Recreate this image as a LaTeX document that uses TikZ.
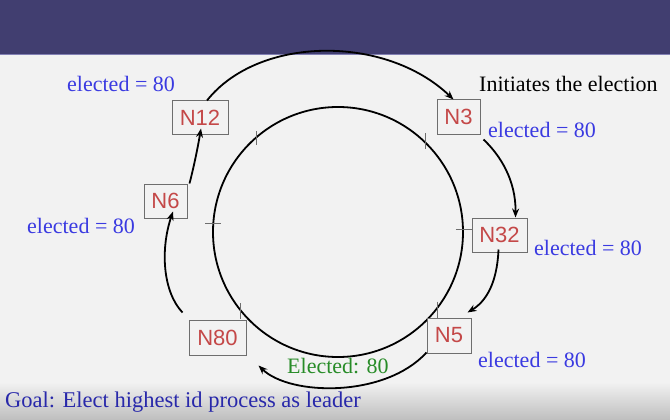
\documentclass[tikz,border=0pt]{standalone}
\usepackage{fontspec}
\setmainfont{Liberation Serif}
\newfontfamily\boxfont{Liberation Sans}
\usetikzlibrary{arrows.meta,calc}
\definecolor{barcol}{RGB}{65,62,112}
\definecolor{barline}{RGB}{130,128,180}
\definecolor{bgcol}{RGB}{242,242,242}
\definecolor{shadecol}{RGB}{190,190,190}
\definecolor{idred}{RGB}{196,72,72}
\definecolor{elblue}{RGB}{58,58,225}
\definecolor{goalblue}{RGB}{40,40,170}
\definecolor{elgreen}{RGB}{40,140,40}
\definecolor{boxgray}{RGB}{110,110,110}
\definecolor{tickgray}{RGB}{110,110,110}
\begin{document}
\begin{tikzpicture}[x=1pt,y=-1pt,
  procbox/.style={draw=boxgray,line width=1pt,fill=bgcol,inner sep=0pt,
    font=\boxfont\fontsize{22}{24}\selectfont,text=idred},
  lbl/.style={font=\fontsize{22}{24}\selectfont,text=elblue,anchor=base west,inner sep=0pt},
  msg/.style={draw=black,line width=1.8pt,-{Stealth[length=9pt,width=7pt]}},
  tickmark/.style={draw=tickgray,line width=0.8pt}]
\useasboundingbox (0,0) rectangle (670,420);
% background
\fill[bgcol] (0,0) rectangle (670,420);
\shade[top color=bgcol,bottom color=shadecol] (0,382) rectangle (670,420);
\fill[barcol] (0,0) rectangle (670,55);
\draw[barline,line width=1pt] (0,55) -- (670,55);
% ring
\node[draw=black,line width=1.8pt,circle,minimum size=250pt,inner sep=0pt] (ring) at (338,232) {};
% ticks
\draw[tickmark] ($(ring.132)+(3,-7)$) -- +(0,14);
\draw[tickmark] ($(ring.46)+(0,-8)$) -- +(0,16);
\draw[tickmark] ($(ring.176)+(-7,0)$) -- +(16,0);
\draw[tickmark] ($(ring.1.5)+(-8,0)$) -- +(16,0);
\draw[tickmark] ($(ring.219)+(0,-8)$) -- +(0,16);
\draw[tickmark] ($(ring.-38)+(0,-8)$) -- +(0,16);
% processes
\node[procbox,minimum width=56pt,minimum height=33pt] (n12) at (200,117.5) {N12};
\node[procbox,minimum width=43pt,minimum height=34pt] (n3) at (458.5,117) {N3};
\node[procbox,minimum width=55pt,minimum height=34pt] (n32) at (499.5,235) {N32};
\node[procbox,minimum width=44pt,minimum height=35pt] (n5) at (449,335.5) {N5};
\node[procbox,minimum width=57pt,minimum height=35pt] (n80) at (217.5,337.5) {N80};
\node[procbox,minimum width=43pt,minimum height=34pt] (n6) at (165.5,201) {N6};
% messages
\draw[msg] ($(n12.north)+(7,0)$) .. controls (258,36) and (385,34) .. ($(n3.north)+(-5,0)$);
\draw[msg] ($(n3.south east)+(3,5)$) .. controls (500,155) and (516,180) .. ($(n32.north)+(16,0)$);
\draw[msg] ($(n32.south)+(-1,-3)$) .. controls (497,285) and (485,302) .. ($(n5.north east)+(-4,-5)$);
\draw[msg] ($(n5.south west)+(0,-1)$) .. controls (385,398) and (290,396) .. ($(n80.south east)+(12,10)$);
\draw[msg] ($(n80.north west)+(-6,-7)$) .. controls (163,292) and (160,250) .. ($(n6.south)+(7.5,-7)$);
\draw[msg] ($(n6.north east)+(2,0)$) .. controls (193,170) and (197,152) .. ($(n12.south)+(1,-6)$);
% labels
\node[lbl] (l12) at (67,92) {elected = 80};
\node[lbl,text=black] (init) at (479,92) {Initiates the election};
\node[lbl] (l3) at (488,137) {elected = 80};
\node[lbl] (l32) at (534,255) {elected = 80};
\node[lbl] (l5) at (478,367) {elected = 80};
\node[lbl] (l6) at (27,233) {elected = 80};
\node[lbl,text=elgreen] (l80) at (287,373) {Elected: 80};
\node[lbl,text=goalblue,font=\fontsize{22.5}{24}\selectfont] (goal) at (5,407) {Goal: Elect highest id process as leader};
\end{tikzpicture}
\end{document}
